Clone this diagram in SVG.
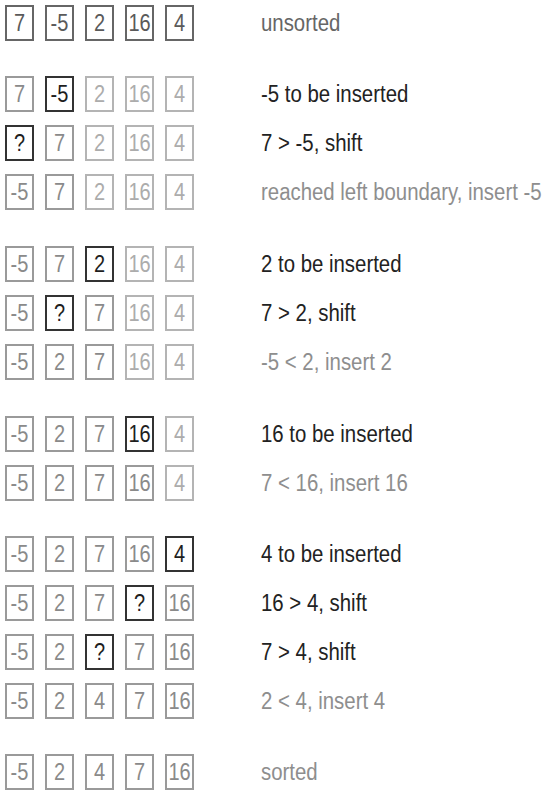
<svg xmlns="http://www.w3.org/2000/svg" width="543" height="799" viewBox="0 0 543 799">
<style>
text{font-family:"Liberation Sans",Arial,sans-serif;font-size:20px}
.b rect{fill:#fff;stroke-width:2}
.b text{text-anchor:middle}
.i rect{stroke:#666}.i text{fill:#5a5a5a}
.s rect{stroke:#9a9a9a}.s text{fill:#8a8a8a}
.u rect{stroke:#b4b4b4}.u text{fill:#acacac}
.h rect{stroke:#333}.h text{fill:#1e1e1e}
.lm,.ld,.lg{font-size:20.4px}
.lm{fill:#666}.ld{fill:#222}.lg{fill:#8e8e8e}
</style>
<rect width="543" height="799" fill="#fff"/>
<g id="row1" transform="translate(0,5)">
<g class="b i"><rect x="6" y="1" width="27" height="34"/><text transform="translate(19.5,26) scale(1,1.22)">7</text></g>
<g class="b i"><rect x="46" y="1" width="27" height="34"/><text transform="translate(59.5,26) scale(1,1.22)">-5</text></g>
<g class="b i"><rect x="86" y="1" width="27" height="34"/><text transform="translate(99.5,26) scale(1,1.22)">2</text></g>
<g class="b i"><rect x="126" y="1" width="27" height="34"/><text transform="translate(139.5,26) scale(1,1.22)">16</text></g>
<g class="b i"><rect x="166" y="1" width="27" height="34"/><text transform="translate(179.5,26) scale(1,1.22)">4</text></g>
<text class="lm" transform="translate(261,26) scale(1,1.2)">unsorted</text>
</g>
<g id="row2" transform="translate(0,76)">
<g class="b s"><rect x="6" y="1" width="27" height="34"/><text transform="translate(19.5,26) scale(1,1.22)">7</text></g>
<g class="b h"><rect x="46" y="1" width="27" height="34"/><text transform="translate(59.5,26) scale(1,1.22)">-5</text></g>
<g class="b u"><rect x="86" y="1" width="27" height="34"/><text transform="translate(99.5,26) scale(1,1.22)">2</text></g>
<g class="b u"><rect x="126" y="1" width="27" height="34"/><text transform="translate(139.5,26) scale(1,1.22)">16</text></g>
<g class="b u"><rect x="166" y="1" width="27" height="34"/><text transform="translate(179.5,26) scale(1,1.22)">4</text></g>
<text class="ld" transform="translate(261,26) scale(1,1.2)">-5 to be inserted</text>
</g>
<g id="row3" transform="translate(0,125)">
<g class="b h"><rect x="6" y="1" width="27" height="34"/><text transform="translate(19.5,26) scale(1,1.22)">?</text></g>
<g class="b s"><rect x="46" y="1" width="27" height="34"/><text transform="translate(59.5,26) scale(1,1.22)">7</text></g>
<g class="b u"><rect x="86" y="1" width="27" height="34"/><text transform="translate(99.5,26) scale(1,1.22)">2</text></g>
<g class="b u"><rect x="126" y="1" width="27" height="34"/><text transform="translate(139.5,26) scale(1,1.22)">16</text></g>
<g class="b u"><rect x="166" y="1" width="27" height="34"/><text transform="translate(179.5,26) scale(1,1.22)">4</text></g>
<text class="ld" transform="translate(261,26) scale(1,1.2)">7 &gt; -5, shift</text>
</g>
<g id="row4" transform="translate(0,174)">
<g class="b s"><rect x="6" y="1" width="27" height="34"/><text transform="translate(19.5,26) scale(1,1.22)">-5</text></g>
<g class="b s"><rect x="46" y="1" width="27" height="34"/><text transform="translate(59.5,26) scale(1,1.22)">7</text></g>
<g class="b u"><rect x="86" y="1" width="27" height="34"/><text transform="translate(99.5,26) scale(1,1.22)">2</text></g>
<g class="b u"><rect x="126" y="1" width="27" height="34"/><text transform="translate(139.5,26) scale(1,1.22)">16</text></g>
<g class="b u"><rect x="166" y="1" width="27" height="34"/><text transform="translate(179.5,26) scale(1,1.22)">4</text></g>
<text class="lg" transform="translate(261,26) scale(1,1.2)">reached left boundary, insert -5</text>
</g>
<g id="row5" transform="translate(0,246)">
<g class="b s"><rect x="6" y="1" width="27" height="34"/><text transform="translate(19.5,26) scale(1,1.22)">-5</text></g>
<g class="b s"><rect x="46" y="1" width="27" height="34"/><text transform="translate(59.5,26) scale(1,1.22)">7</text></g>
<g class="b h"><rect x="86" y="1" width="27" height="34"/><text transform="translate(99.5,26) scale(1,1.22)">2</text></g>
<g class="b u"><rect x="126" y="1" width="27" height="34"/><text transform="translate(139.5,26) scale(1,1.22)">16</text></g>
<g class="b u"><rect x="166" y="1" width="27" height="34"/><text transform="translate(179.5,26) scale(1,1.22)">4</text></g>
<text class="ld" transform="translate(261,26) scale(1,1.2)">2 to be inserted</text>
</g>
<g id="row6" transform="translate(0,295)">
<g class="b s"><rect x="6" y="1" width="27" height="34"/><text transform="translate(19.5,26) scale(1,1.22)">-5</text></g>
<g class="b h"><rect x="46" y="1" width="27" height="34"/><text transform="translate(59.5,26) scale(1,1.22)">?</text></g>
<g class="b s"><rect x="86" y="1" width="27" height="34"/><text transform="translate(99.5,26) scale(1,1.22)">7</text></g>
<g class="b u"><rect x="126" y="1" width="27" height="34"/><text transform="translate(139.5,26) scale(1,1.22)">16</text></g>
<g class="b u"><rect x="166" y="1" width="27" height="34"/><text transform="translate(179.5,26) scale(1,1.22)">4</text></g>
<text class="ld" transform="translate(261,26) scale(1,1.2)">7 &gt; 2, shift</text>
</g>
<g id="row7" transform="translate(0,344)">
<g class="b s"><rect x="6" y="1" width="27" height="34"/><text transform="translate(19.5,26) scale(1,1.22)">-5</text></g>
<g class="b s"><rect x="46" y="1" width="27" height="34"/><text transform="translate(59.5,26) scale(1,1.22)">2</text></g>
<g class="b s"><rect x="86" y="1" width="27" height="34"/><text transform="translate(99.5,26) scale(1,1.22)">7</text></g>
<g class="b u"><rect x="126" y="1" width="27" height="34"/><text transform="translate(139.5,26) scale(1,1.22)">16</text></g>
<g class="b u"><rect x="166" y="1" width="27" height="34"/><text transform="translate(179.5,26) scale(1,1.22)">4</text></g>
<text class="lg" transform="translate(261,26) scale(1,1.2)">-5 &lt; 2, insert 2</text>
</g>
<g id="row8" transform="translate(0,416)">
<g class="b s"><rect x="6" y="1" width="27" height="34"/><text transform="translate(19.5,26) scale(1,1.22)">-5</text></g>
<g class="b s"><rect x="46" y="1" width="27" height="34"/><text transform="translate(59.5,26) scale(1,1.22)">2</text></g>
<g class="b s"><rect x="86" y="1" width="27" height="34"/><text transform="translate(99.5,26) scale(1,1.22)">7</text></g>
<g class="b h"><rect x="126" y="1" width="27" height="34"/><text transform="translate(139.5,26) scale(1,1.22)">16</text></g>
<g class="b u"><rect x="166" y="1" width="27" height="34"/><text transform="translate(179.5,26) scale(1,1.22)">4</text></g>
<text class="ld" transform="translate(261,26) scale(1,1.2)">16 to be inserted</text>
</g>
<g id="row9" transform="translate(0,465)">
<g class="b s"><rect x="6" y="1" width="27" height="34"/><text transform="translate(19.5,26) scale(1,1.22)">-5</text></g>
<g class="b s"><rect x="46" y="1" width="27" height="34"/><text transform="translate(59.5,26) scale(1,1.22)">2</text></g>
<g class="b s"><rect x="86" y="1" width="27" height="34"/><text transform="translate(99.5,26) scale(1,1.22)">7</text></g>
<g class="b s"><rect x="126" y="1" width="27" height="34"/><text transform="translate(139.5,26) scale(1,1.22)">16</text></g>
<g class="b u"><rect x="166" y="1" width="27" height="34"/><text transform="translate(179.5,26) scale(1,1.22)">4</text></g>
<text class="lg" transform="translate(261,26) scale(1,1.2)">7 &lt; 16, insert 16</text>
</g>
<g id="row10" transform="translate(0,536)">
<g class="b s"><rect x="6" y="1" width="27" height="34"/><text transform="translate(19.5,26) scale(1,1.22)">-5</text></g>
<g class="b s"><rect x="46" y="1" width="27" height="34"/><text transform="translate(59.5,26) scale(1,1.22)">2</text></g>
<g class="b s"><rect x="86" y="1" width="27" height="34"/><text transform="translate(99.5,26) scale(1,1.22)">7</text></g>
<g class="b s"><rect x="126" y="1" width="27" height="34"/><text transform="translate(139.5,26) scale(1,1.22)">16</text></g>
<g class="b h"><rect x="166" y="1" width="27" height="34"/><text transform="translate(179.5,26) scale(1,1.22)">4</text></g>
<text class="ld" transform="translate(261,26) scale(1,1.2)">4 to be inserted</text>
</g>
<g id="row11" transform="translate(0,585)">
<g class="b s"><rect x="6" y="1" width="27" height="34"/><text transform="translate(19.5,26) scale(1,1.22)">-5</text></g>
<g class="b s"><rect x="46" y="1" width="27" height="34"/><text transform="translate(59.5,26) scale(1,1.22)">2</text></g>
<g class="b s"><rect x="86" y="1" width="27" height="34"/><text transform="translate(99.5,26) scale(1,1.22)">7</text></g>
<g class="b h"><rect x="126" y="1" width="27" height="34"/><text transform="translate(139.5,26) scale(1,1.22)">?</text></g>
<g class="b s"><rect x="166" y="1" width="27" height="34"/><text transform="translate(179.5,26) scale(1,1.22)">16</text></g>
<text class="ld" transform="translate(261,26) scale(1,1.2)">16 &gt; 4, shift</text>
</g>
<g id="row12" transform="translate(0,634)">
<g class="b s"><rect x="6" y="1" width="27" height="34"/><text transform="translate(19.5,26) scale(1,1.22)">-5</text></g>
<g class="b s"><rect x="46" y="1" width="27" height="34"/><text transform="translate(59.5,26) scale(1,1.22)">2</text></g>
<g class="b h"><rect x="86" y="1" width="27" height="34"/><text transform="translate(99.5,26) scale(1,1.22)">?</text></g>
<g class="b s"><rect x="126" y="1" width="27" height="34"/><text transform="translate(139.5,26) scale(1,1.22)">7</text></g>
<g class="b s"><rect x="166" y="1" width="27" height="34"/><text transform="translate(179.5,26) scale(1,1.22)">16</text></g>
<text class="ld" transform="translate(261,26) scale(1,1.2)">7 &gt; 4, shift</text>
</g>
<g id="row13" transform="translate(0,683)">
<g class="b s"><rect x="6" y="1" width="27" height="34"/><text transform="translate(19.5,26) scale(1,1.22)">-5</text></g>
<g class="b s"><rect x="46" y="1" width="27" height="34"/><text transform="translate(59.5,26) scale(1,1.22)">2</text></g>
<g class="b s"><rect x="86" y="1" width="27" height="34"/><text transform="translate(99.5,26) scale(1,1.22)">4</text></g>
<g class="b s"><rect x="126" y="1" width="27" height="34"/><text transform="translate(139.5,26) scale(1,1.22)">7</text></g>
<g class="b s"><rect x="166" y="1" width="27" height="34"/><text transform="translate(179.5,26) scale(1,1.22)">16</text></g>
<text class="lg" transform="translate(261,26) scale(1,1.2)">2 &lt; 4, insert 4</text>
</g>
<g id="row14" transform="translate(0,754)">
<g class="b s"><rect x="6" y="1" width="27" height="34"/><text transform="translate(19.5,26) scale(1,1.22)">-5</text></g>
<g class="b s"><rect x="46" y="1" width="27" height="34"/><text transform="translate(59.5,26) scale(1,1.22)">2</text></g>
<g class="b s"><rect x="86" y="1" width="27" height="34"/><text transform="translate(99.5,26) scale(1,1.22)">4</text></g>
<g class="b s"><rect x="126" y="1" width="27" height="34"/><text transform="translate(139.5,26) scale(1,1.22)">7</text></g>
<g class="b s"><rect x="166" y="1" width="27" height="34"/><text transform="translate(179.5,26) scale(1,1.22)">16</text></g>
<text class="lg" transform="translate(261,26) scale(1,1.2)">sorted</text>
</g>
<g id="connectors"/>
</svg>
